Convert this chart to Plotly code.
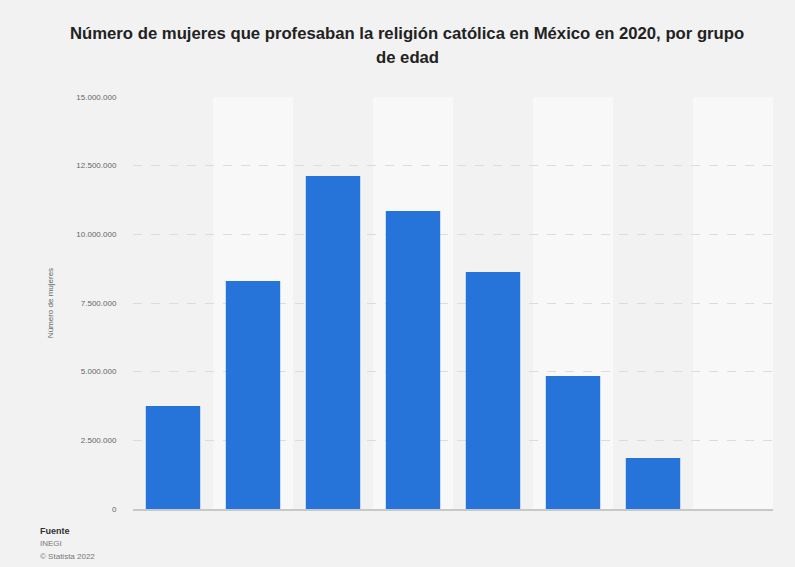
import plotly.graph_objects as go

categories = ["0 a 4 años", "5 a 14 años", "15 a 29 años", "30 a 44 años",
              "45 a 59 años", "60 a 74 años", "75 años y más", "No especificado"]
values = [3750000, 8300000, 12120000, 10850000, 8630000, 4840000, 1860000, 0]
tick_vals = [0, 2500000, 5000000, 7500000, 10000000, 12500000, 15000000]
tick_text = ["0", "2.500.000", "5.000.000", "7.500.000", "10.000.000", "12.500.000", "15.000.000"]

title_lines = ["Número de mujeres que profesaban la religión católica en México en 2020, por grupo",
               "de edad"]
y_title = "Número de mujeres"
source_lines = ["<b>Fuente</b>", "INEGI", "© Statista 2022"]

fig = go.Figure()
fig.add_trace(go.Bar(x=categories, y=values, marker=dict(color="#2674d9", line=dict(width=0)),
                     hoverinfo="x+y"))

shapes = []
for i, c in enumerate(categories):
    if i % 2 == 1:
        shapes.append(dict(type="rect", xref="x", yref="paper", x0=i - 0.5, x1=i + 0.5,
                           y0=0, y1=1, fillcolor="#f8f8f8", line=dict(width=0), layer="below"))

fig.update_layout(
    width=795, height=567,
    paper_bgcolor="#f2f2f2", plot_bgcolor="#f2f2f2",
    margin=dict(l=133, r=22, t=97, b=58),
    font=dict(family="Liberation Sans, Arial, sans-serif", color="#666666"),
    bargap=0.32,
    shapes=shapes,
    showlegend=False,
    xaxis=dict(showticklabels=False, showgrid=False, ticks="", showline=True,
               linecolor="#c8c8c8", linewidth=2, range=[-0.5, len(categories) - 0.5]),
    yaxis=dict(range=[0, 15000000], tickvals=tick_vals, ticktext=tick_text,
               tickfont=dict(size=8, color="#666666"), showgrid=True,
               gridcolor="#dcdcdc", griddash="dash", gridwidth=1, zeroline=False,
               ticks="outside", ticklen=14, tickcolor="rgba(0,0,0,0)",
               title=dict(text=y_title, font=dict(size=8, color="#666666"), standoff=21)),
)

for j, line in enumerate(title_lines):
    fig.add_annotation(text="<b>" + line + "</b>", xref="paper", yref="paper",
                       x=(407 - 133) / 640, y=1 + (97 - 33 - j * 25) / 412,
                       xanchor="center", yanchor="middle", showarrow=False,
                       font=dict(size=16.7, color="#222222",
                                 family="Liberation Sans, Arial, sans-serif"))

for j, line in enumerate(source_lines):
    fig.add_annotation(text=line, xref="paper", yref="paper", x=-0.148, y=-0.036 - j * 0.0316,
                       xanchor="left", yanchor="top", showarrow=False,
                       font=dict(size=9 if j == 0 else 8, color="#333333" if j == 0 else "#777777"))

fig.write_html("out.html", config={"displayModeBar": False},
               post_script="document.body.style.margin='0';document.body.style.background='#f2f2f2';")
